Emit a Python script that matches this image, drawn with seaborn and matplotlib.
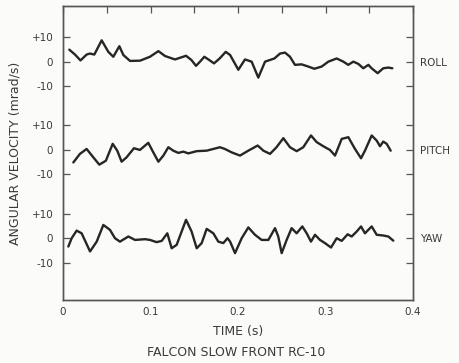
import numpy as np
import pandas as pd
import seaborn as sns
import matplotlib
matplotlib.use("Agg")
import matplotlib.pyplot as plt

# ---- data ----
roll_t = [0.0072, 0.0137, 0.020, 0.027, 0.0307, 0.0358, 0.0442, 0.0518, 0.0575, 0.0644,
          0.069, 0.0766, 0.088, 0.0994, 0.109, 0.1166, 0.128, 0.1406, 0.1467, 0.152,
          0.1566, 0.1615, 0.167, 0.1726, 0.179, 0.186, 0.191, 0.2004, 0.208, 0.2156,
          0.2232, 0.2309, 0.2366, 0.2416, 0.248, 0.2537, 0.2594, 0.2651, 0.2727, 0.2804,
          0.2872, 0.2956, 0.3032, 0.3128, 0.3204, 0.326, 0.3318, 0.3375, 0.3432, 0.349,
          0.3527, 0.3596, 0.366, 0.3718, 0.3764]
roll_v = [4.9, 2.9, 0.5, 2.9, 3.3, 2.9, 8.7, 4.0, 2.0, 6.3,
          2.7, 0.3, 0.4, 2.0, 4.3, 2.3, 0.9, 2.4, 0.7, -1.7,
          0.0, 2.0, 0.7, -0.7, 1.3, 4.0, 2.7, -3.3, 0.9, 0.0,
          -6.5, 0.0, 0.7, 1.3, 3.3, 3.7, 2.0, -1.3, -1.1, -2.0,
          -2.9, -2.0, 0.0, 1.3, 0.0, -1.3, 0.0, -0.9, -2.7, -1.3,
          -2.7, -4.7, -2.7, -2.4, -2.7]

pitch_t = [0.0118, 0.0194, 0.027, 0.0346, 0.0415, 0.049, 0.0568, 0.062, 0.067, 0.0727,
           0.0811, 0.0879, 0.0975, 0.1032, 0.109, 0.1147, 0.1204, 0.126, 0.1318, 0.1375,
           0.1432, 0.1528, 0.1642, 0.1794, 0.185, 0.1928, 0.2023, 0.2118, 0.2225, 0.229,
           0.2366, 0.244, 0.2518, 0.2594, 0.267, 0.2746, 0.2834, 0.2899, 0.2975, 0.3051,
           0.3109, 0.3185, 0.3261, 0.3337, 0.3406, 0.3451, 0.3528, 0.3585, 0.3623, 0.366,
           0.3699, 0.3745]
pitch_v = [-5.1, -1.6, 0.4, -3.0, -6.0, -4.4, 2.5, -0.3, -4.8, -3.0,
           0.7, 0.0, 2.9, -1.0, -4.8, -2.3, 1.1, -0.3, -1.2, -0.7,
           -1.4, -0.5, -0.3, 1.1, 0.4, -1.0, -2.3, -0.3, 1.8, -0.3,
           -1.6, 1.1, 4.8, 1.1, -0.5, 1.1, 5.9, 3.2, 1.5, 0.0,
           -2.3, 4.5, 5.2, 0.4, -3.4, -0.3, 5.9, 3.8, 1.5, 3.4,
           2.5, -0.3]

yaw_t = [0.0061, 0.0099, 0.0156, 0.0213, 0.0309, 0.0385, 0.0461, 0.0537, 0.0594, 0.0651,
         0.0747, 0.0823, 0.0937, 0.0994, 0.107, 0.1128, 0.1192, 0.1242, 0.1299, 0.1406,
         0.147, 0.1528, 0.1585, 0.1642, 0.1718, 0.1775, 0.1832, 0.188, 0.191, 0.1966,
         0.2042, 0.2118, 0.2194, 0.227, 0.2347, 0.2423, 0.246, 0.2499, 0.2556, 0.2613,
         0.267, 0.2735, 0.2785, 0.2834, 0.288, 0.2937, 0.2994, 0.3063, 0.3128, 0.3185,
         0.3253, 0.3299, 0.3356, 0.3406, 0.3451, 0.3528, 0.3585, 0.366, 0.3718, 0.3775]
yaw_v = [-3.4, 0.0, 3.1, 2.0, -5.4, -1.4, 5.4, 3.4, 0.0, -1.4,
         0.7, -0.7, -0.4, -0.7, -1.6, -1.1, 2.0, -4.1, -2.7, 7.5,
         2.7, -4.1, -2.0, 3.8, 2.0, -1.4, -2.0, 0.0, -1.4, -6.1,
         0.0, 4.4, 1.4, -0.7, -0.7, 4.1, 0.7, -6.1, -0.7, 4.1,
         2.0, 4.8, 2.0, -1.4, 1.4, -0.7, -2.0, -3.8, 0.0, -1.1,
         1.6, 0.7, 2.7, 4.8, 2.0, 4.8, 1.4, 1.1, 0.7, -1.0]

channel_names = ["ROLL", "PITCH", "YAW"]
x_tick_labels = ["0", "0.1", "0.2", "0.3", "0.4"]
y_tick_labels = ["+10", "0", "-10"]
x_label = "TIME (s)"
y_label = "ANGULAR VELOCITY (mrad/s)"
caption = "FALCON SLOW FRONT RC-10"

# ---- layout / style ----
offsets = {"ROLL": 72.0, "PITCH": 36.0, "YAW": 0.0}
ink = "#262626"
txt = "#3a3a3a"

sns.set_theme(style="white")
plt.rcParams["font.family"] = ["DejaVu Sans"]

fig = plt.figure(figsize=(4.59, 3.63), dpi=100)
fig.patch.set_facecolor("#fbfbfa")
ax = fig.add_axes([63 / 459, 1 - 300 / 363, 350 / 459, 294 / 363])
ax.set_facecolor("#fbfbfa")

series = {"ROLL": (roll_t, roll_v), "PITCH": (pitch_t, pitch_v), "YAW": (yaw_t, yaw_v)}
for name, (t, v) in series.items():
    df = pd.DataFrame({"t": t, "v": np.asarray(v) + offsets[name]})
    sns.lineplot(data=df, x="t", y="v", ax=ax, color=ink, lw=1.7, estimator=None, sort=False,
                 solid_joinstyle="round", solid_capstyle="round")

ax.set_xlim(0, 0.4)
ax.set_ylim(-25.2, 94.7)

# x ticks
xt = np.round(np.arange(0, 0.4001, 0.05), 3)
ax.set_xticks(xt)
ax.set_xticklabels([x_tick_labels[i // 2] if i % 2 == 0 else "" for i in range(len(xt))])

# left y ticks
yt, yl = [], []
for name in channel_names:
    for d, lab in zip([10, 0, -10], y_tick_labels):
        yt.append(offsets[name] + d)
        yl.append(lab)
ax.set_yticks(yt)
ax.set_yticklabels(yl)

ax.tick_params(axis="both", direction="in", length=5, width=0.9, color="#555555",
               labelsize=7.5, labelcolor=txt, top=True, pad=5)
ax.tick_params(axis="y", pad=7)
ax.set_xlabel(x_label, fontsize=9, color=txt, labelpad=6)
ax.set_ylabel(y_label, fontsize=9, color=txt, labelpad=7)

# right axis with channel names
ax2 = ax.twinx()
ax2.set_ylim(ax.get_ylim())
ax2.set_yticks(yt)
ax2.set_yticklabels([name if d == 0 else "" for name in channel_names for d in [10, 0, -10]])
ax2.tick_params(axis="y", direction="in", length=5, width=0.9, color="#555555",
                labelsize=7.5, labelcolor=txt, pad=5)
ax2.grid(False)

for a in (ax, ax2):
    for s in a.spines.values():
        s.set_visible(True)
        s.set_color("#555555")
        s.set_linewidth(1.0)

fig.text(236 / 459, 1 - 352 / 363, caption, ha="center", va="center", fontsize=9, color=txt)

fig.savefig("out.png", dpi=100, facecolor=fig.get_facecolor())
